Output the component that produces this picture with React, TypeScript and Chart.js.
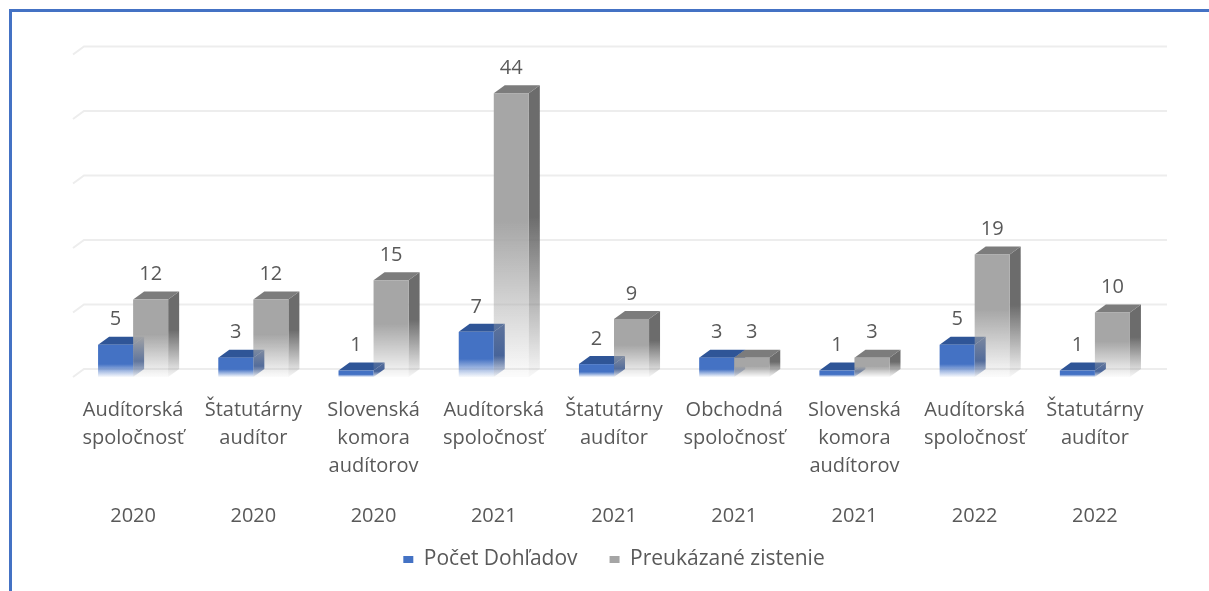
import React, { useEffect, useRef } from "react";
import { Chart, registerables } from "chart.js";

Chart.register(...registerables);

const categories: string[][] = [
  ["Audítorská", "spoločnosť"],
  ["Štatutárny", "audítor"],
  ["Slovenská", "komora", "audítorov"],
  ["Audítorská", "spoločnosť"],
  ["Štatutárny", "audítor"],
  ["Obchodná", "spoločnosť"],
  ["Slovenská", "komora", "audítorov"],
  ["Audítorská", "spoločnosť"],
  ["Štatutárny", "audítor"],
];
const years = ["2020", "2020", "2020", "2021", "2021", "2021", "2021", "2022", "2022"];
const pocetDohladov = [5, 3, 1, 7, 2, 3, 1, 5, 1];
const preukazaneZistenie = [12, 12, 15, 44, 9, 3, 3, 19, 10];
const seriesNames = ["Počet Dohľadov", "Preukázané zistenie"];
const yTicks = [0, 10, 20, 30, 40, 50];

const FONT = "'Open Sans', 'Noto Sans', sans-serif";
const TEXT = "#595959";
const DX = 11;
const DY = 8;
const YEAR_OFFSET = 139;

type RGB = [number, number, number];
const faces: { front: RGB; side: RGB; top: RGB; solid: number; legend: string }[] = [
  { front: [68, 114, 196], side: [52, 86, 150], top: [47, 85, 151], solid: 0.6, legend: "#4472C4" },
  { front: [166, 166, 166], side: [108, 108, 108], top: [124, 124, 124], solid: 0.45, legend: "#A5A5A5" },
];
const rgba = (c: RGB, a: number) => `rgba(${c[0]},${c[1]},${c[2]},${a})`;

const bars3d = {
  id: "bars3d",
  beforeDatasetsDraw(chart: any) {
    const { ctx, chartArea, scales } = chart;
    const y = scales.y;
    ctx.save();
    ctx.strokeStyle = "#ededed";
    ctx.lineWidth = 2;
    for (const v of yTicks) {
      const py = y.getPixelForValue(v);
      ctx.beginPath();
      ctx.moveTo(chartArea.left, py);
      ctx.lineTo(chartArea.left + DX, py - DY);
      ctx.lineTo(chartArea.right + DX + 1, py - DY);
      ctx.stroke();
    }
    ctx.restore();
  },
  afterDatasetsDraw(chart: any) {
    const { ctx } = chart;
    const metas = chart.data.datasets.map((_: any, i: number) => chart.getDatasetMeta(i));
    const n = chart.data.labels.length;
    ctx.save();
    const labels: { x: number; y: number; v: number }[] = [];
    for (let j = 0; j < n; j++) {
      metas.forEach((meta: any, di: number) => {
        const el = meta.data[j];
        if (!el) return;
        const { x, y, base, width } = el.getProps(["x", "y", "base", "width"], true);
        const l = x - width / 2;
        const r = x + width / 2;
        const f = faces[di];
        const h = Math.max(base - y, 0.001);
        const gs = ctx.createLinearGradient(0, y - DY, 0, base);
        gs.addColorStop(0, rgba(f.side, 1));
        gs.addColorStop(f.solid, rgba(f.side, 1));
        gs.addColorStop(1, rgba(f.side, 0.05));
        ctx.fillStyle = gs;
        ctx.beginPath();
        ctx.moveTo(r, y);
        ctx.lineTo(r + DX, y - DY);
        ctx.lineTo(r + DX, base - DY);
        ctx.lineTo(r, base);
        ctx.closePath();
        ctx.fill();
        ctx.fillStyle = rgba(f.top, 1);
        ctx.beginPath();
        ctx.moveTo(l, y);
        ctx.lineTo(l + DX, y - DY);
        ctx.lineTo(r + DX, y - DY);
        ctx.lineTo(r, y);
        ctx.closePath();
        ctx.fill();
        const gf = ctx.createLinearGradient(0, y, 0, y + h);
        gf.addColorStop(0, rgba(f.front, 1));
        gf.addColorStop(f.solid, rgba(f.front, 1));
        gf.addColorStop(1, rgba(f.front, 0.04));
        ctx.fillStyle = gf;
        ctx.fillRect(l, y, r - l, h);
        labels.push({ x, y, v: chart.data.datasets[di].data[j] });
      });
    }
    ctx.fillStyle = TEXT;
    ctx.font = `20px ${FONT}`;
    ctx.textAlign = "center";
    ctx.textBaseline = "middle";
    for (const lb of labels) ctx.fillText(String(lb.v), lb.x, lb.y - 25);
    ctx.restore();
  },
  afterDraw(chart: any) {
    const { ctx, scales } = chart;
    const x = scales.x;
    ctx.save();
    ctx.fillStyle = TEXT;
    ctx.font = `20px ${FONT}`;
    ctx.textAlign = "center";
    ctx.textBaseline = "middle";
    years.forEach((yr, i) => ctx.fillText(yr, x.getPixelForValue(i), x.top + YEAR_OFFSET));
    ctx.restore();
  },
};

export default function App() {
  const ref = useRef<HTMLCanvasElement | null>(null);
  useEffect(() => {
    if (!ref.current) return;
    const tickFont = { family: FONT, size: 20, lineHeight: 1.4 };
    const chart = new Chart(ref.current, {
      type: "bar",
      data: {
        labels: categories as any,
        datasets: [
          { label: seriesNames[0], data: pocetDohladov, backgroundColor: "rgba(0,0,0,0)", borderWidth: 0, categoryPercentage: 0.583, barPercentage: 1 },
          { label: seriesNames[1], data: preukazaneZistenie, backgroundColor: "rgba(0,0,0,0)", borderWidth: 0, categoryPercentage: 0.583, barPercentage: 1 },
        ],
      },
      options: {
        animation: false,
        responsive: false,
        maintainAspectRatio: false,
        events: [],
        layout: { padding: { left: 61, right: 54, top: 42.5, bottom: 11 } },
        plugins: {
          tooltip: { enabled: false },
          legend: {
            position: "bottom",
            labels: {
              boxWidth: 10,
              boxHeight: 7,
              padding: 32,
              color: TEXT,
              font: { family: FONT, size: 21 },
              generateLabels: () =>
                seriesNames.map((t, i) => ({
                  text: t,
                  fillStyle: faces[i].legend,
                  strokeStyle: "rgba(0,0,0,0)",
                  lineWidth: 0,
                  fontColor: TEXT,
                  datasetIndex: i,
                  hidden: false,
                })),
            },
          },
        },
        scales: {
          x: {
            type: "category",
            position: "bottom",
            grid: { display: false, drawTicks: false },
            border: { display: false },
            ticks: { color: TEXT, font: tickFont, padding: 19, maxRotation: 0, autoSkip: false },
            afterFit: (s: any) => {
              s.height = 140;
            },
          },
          y: { display: false, min: 0, max: 50 },
        },
      } as any,
      plugins: [bars3d],
    });
    return () => chart.destroy();
  }, []);
  return (
    <div style={{ position: "fixed", left: 0, top: 0, width: 1209, height: 591, background: "#fff", overflow: "hidden" }}>
      <div
        style={{
          position: "absolute",
          left: 9,
          top: 9,
          right: 0,
          bottom: 0,
          borderLeft: "3px solid #4472C4",
          borderTop: "3px solid #4472C4",
        }}
      />
      <canvas ref={ref} width={1197} height={579} style={{ position: "absolute", left: 12, top: 12, width: 1197, height: 579 }} />
    </div>
  );
}
